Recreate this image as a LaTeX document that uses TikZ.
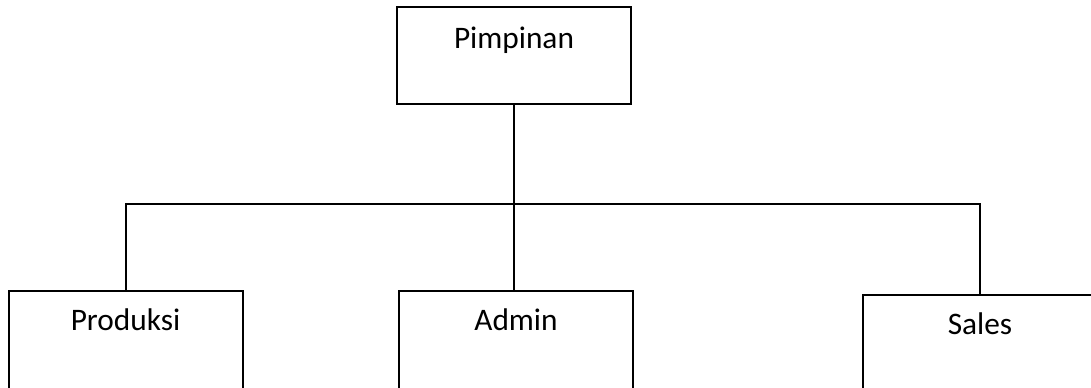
\documentclass[tikz,border=0pt]{standalone}
\usepackage{fontspec}
\setmainfont{Carlito}
\begin{document}
\begin{tikzpicture}[x=0.75pt,y=0.75pt,
  unit/.style={draw=black, line width=1.5pt, rectangle, anchor=north, inner sep=0pt,
    minimum width=175.5pt, text height=29.5pt, text depth=60pt,
    font=\fontsize{23.5}{28}\selectfont}]
\useasboundingbox (0,0) rectangle (1091,387);
\clip (0,0) rectangle (1091,387);
\node [unit, text height=31pt, text depth=41.75pt] (pimpinan) at (514,381) {Pimpinan};
\node [unit] (produksi) at (125.5,97) {Produksi};
\node [unit] (admin) at (516,97) {Admin};
\node [unit] (sales) at (980,93) {Sales};
\coordinate (bus) at (0,183);
\draw [line width=1.5pt] (pimpinan.south) -- (pimpinan.south |- admin.north);
\draw [line width=1.5pt] (produksi.north) |- (bus -| sales.north) -- (sales.north);
\end{tikzpicture}
\end{document}
